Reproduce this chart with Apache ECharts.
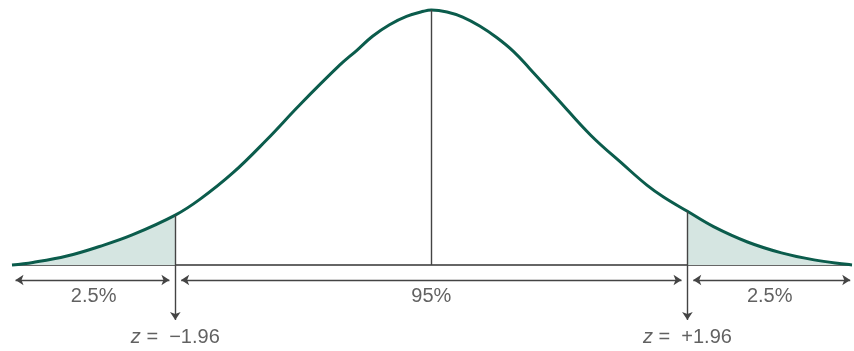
<!DOCTYPE html>
<html>
<head>
<meta charset="utf-8">
<script src="https://cdn.jsdelivr.net/npm/echarts@6/dist/echarts.min.js"></script>
<style>
  html, body { margin: 0; padding: 0; background: #fff; }
  #chart { width: 854px; height: 351px; }
</style>
</head>
<body>
<div id="chart"></div>
<script>
// curve: z value and height (density units)
const zVals = [-3.21, -3.05, -2.79, -2.54, -2.29, -1.96, -1.77, -1.52, -1.26, -1.01, -0.70,
  -0.57, -0.45, -0.32, -0.19, -0.06, 0, 0.12, 0.24, 0.37, 0.50, 0.63, 0.75,
  0.96, 1.22, 1.47, 1.65, 1.78, 1.96, 2.16, 2.42, 2.68, 2.93, 3.18, 3.22];
const density = [0, 0.004, 0.014, 0.029, 0.047, 0.078, 0.103, 0.144, 0.196, 0.250, 0.313,
  0.336, 0.358, 0.376, 0.389, 0.397, 0.399, 0.396, 0.388, 0.374, 0.356, 0.334, 0.308,
  0.261, 0.203, 0.157, 0.125, 0.106, 0.084, 0.060, 0.036, 0.019, 0.008, 0.001, 0];

const cuts = [-1.96, 1.96];
const cutHeights = [0.078, 0.084];
const peak = [0, 0.399];
const areaLabels = ['2.5%', '95%', '2.5%'];
const cutLabels = ['\u22121.96', '+1.96'];

// layout below the baseline (in y units, 1px ~ 0.00156)
const yBottom = -0.1346;
const arrowY = -0.0235;
const tipY = -0.086;
const pctY = -0.049;
const zTextY = -0.114;
const gap = 0.045;

const zMin = zVals[0];
const zMax = zVals[zVals.length - 1];
const curve = zVals.map((z, i) => [z, density[i]]);

// tails shaded via hard gradient stops
const o1 = (cuts[0] - zMin) / (zMax - zMin);
const o2 = (cuts[1] - zMin) / (zMax - zMin);
const fill = '#d5e5e1';
const clear = 'rgba(255,255,255,0)';

const ink = '#3a3a3a';

// segment bounds for the arrows
const bounds = [zMin, cuts[0], cuts[1], zMax];
const arrowSegs = [];
const pctPoints = [];
for (let i = 0; i < 3; i++) {
  const a = bounds[i] + gap * (i === 0 ? 0.6 : 1);
  const b = bounds[i + 1] - gap * (i === 2 ? 0.3 : 1);
  arrowSegs.push([{ coord: [a, arrowY] }, { coord: [b, arrowY] }]);
  pctPoints.push({ value: [(bounds[i] + bounds[i + 1]) / 2, pctY], name: areaLabels[i] });
}

const vertSegs = cuts.map((c, i) => [
  { coord: [c, cutHeights[i]], symbol: 'none' },
  { coord: [c, tipY], symbol: 'arrow' }
]);
vertSegs.push([{ coord: [peak[0], peak[1]], symbol: 'none' }, { coord: [peak[0], 0], symbol: 'none' }]);

const zPoints = cuts.map((c, i) => ({ value: [c, zTextY], name: cutLabels[i] }));

const chart = echarts.init(document.getElementById('chart'));
chart.setOption({
  animation: false,
  grid: { left: 12, right: 2, top: 10, bottom: 0 },
  xAxis: { type: 'value', min: zMin, max: zMax, show: false },
  yAxis: { type: 'value', min: yBottom, max: peak[1], show: false },
  series: [
    {
      type: 'line',
      data: curve,
      smooth: 0.4,
      symbol: 'none',
      clip: false,
      z: 3,
      lineStyle: { color: '#0b5c4c', width: 3 },
      areaStyle: {
        opacity: 1,
        origin: 0,
        color: new echarts.graphic.LinearGradient(0, 0, 1, 0, [
          { offset: 0, color: fill },
          { offset: o1, color: fill },
          { offset: o1, color: clear },
          { offset: o2, color: clear },
          { offset: o2, color: fill },
          { offset: 1, color: fill }
        ])
      }
    },
    {
      // baseline, vertical lines and range arrows
      type: 'line',
      data: [[zMin, 0], [zMax, 0]],
      symbol: 'none',
      clip: false,
      z: 2,
      lineStyle: { color: '#333', width: 1.6 },
      markLine: {
        silent: true,
        symbol: ['arrow', 'arrow'],
        symbolSize: 8,
        label: { show: false },
        emphasis: { disabled: true },
        lineStyle: { type: 'solid', color: '#444', width: 1.4 },
        data: arrowSegs.concat(vertSegs)
      }
    },
    {
      type: 'scatter',
      data: pctPoints,
      symbolSize: 0,
      clip: false,
      label: {
        show: true,
        position: 'inside',
        formatter: p => p.name,
        fontFamily: 'Liberation Sans',
        fontSize: 20,
        color: ink
      }
    },
    {
      type: 'scatter',
      data: zPoints,
      symbolSize: 0,
      clip: false,
      label: {
        show: true,
        position: 'inside',
        formatter: p => '{i|z} =  ' + p.name,
        fontFamily: 'Liberation Sans',
        fontSize: 20,
        color: ink,
        rich: {
          i: { fontStyle: 'italic', fontFamily: 'Liberation Sans', fontSize: 20, color: ink }
        }
      }
    }
  ]
});
</script>
</body>
</html>
